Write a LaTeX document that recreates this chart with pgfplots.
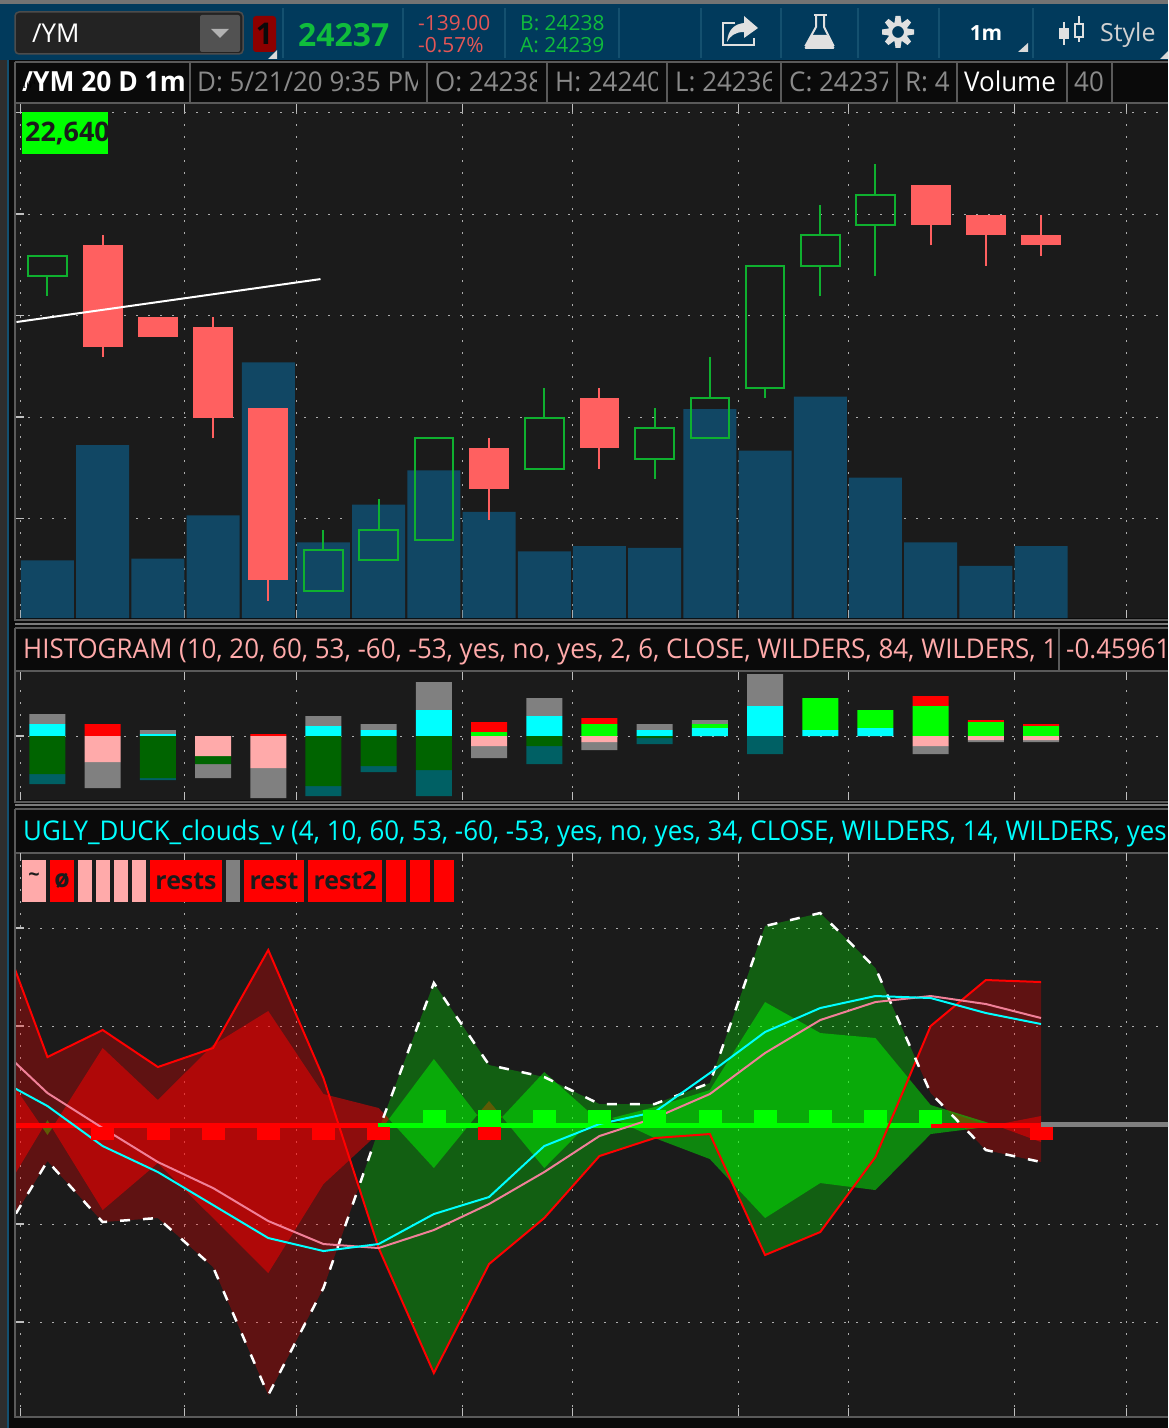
\documentclass[border=0pt]{standalone}
\usepackage{fontspec}
\usepackage{pgfplots}
\pgfplotsset{compat=1.18}
\setmainfont{Open Sans}
\definecolor{bgc}{HTML}{1B1B1B}
\definecolor{hdr}{HTML}{0A0A0A}
\definecolor{bord}{HTML}{5A5A5A}
\definecolor{tool}{HTML}{013A5C}
\definecolor{toolsep}{HTML}{14506F}
\definecolor{cgreen}{HTML}{0FB02F}
\definecolor{tgreen}{HTML}{10BC3C}
\definecolor{cred}{HTML}{FF6060}
\definecolor{vol}{HTML}{114764}
\definecolor{rcyan}{HTML}{00FFFF}
\definecolor{rred}{HTML}{FF0000}
\definecolor{rgreen}{HTML}{00FF00}
\definecolor{hpink}{HTML}{FFAAAA}
\definecolor{hdkgreen}{HTML}{006400}
\definecolor{hteal}{HTML}{006064}
\definecolor{hgray}{HTML}{808080}
\definecolor{txtgray}{HTML}{8A8A8A}
\definecolor{olive}{HTML}{5F5A05}
\definecolor{plink}{HTML}{F08098}
\newcommand\fs[1]{\fontsize{#1}{#1}\selectfont}
\newcommand\cellclip[5]{% x, baseline y, clip x, colour, text
  \begin{scope}\clip (#1-2,#2-30) rectangle (#3,#2+12);
  \node[anchor=base west,inner sep=0pt,text=#4,yscale=1.05] at (#1,#2) {\fs{26}#5};\end{scope}}
\newcommand\badge[5]{% x0, x1, colour, text, yshift
  \fill[#3] (#1,860) rectangle (#2,902);
  \node[inner sep=0pt,text=bgc] at ({(#1+#2)/2},881+#5) {\fs{25}\bfseries #4};}
% i, bottom of body, top of body, high, low
\newcommand\hollow[5]{%
  \addplot[cgreen,line width=2bp] coordinates {(#1-0.35,#2)(#1+0.35,#2)(#1+0.35,#3)(#1-0.35,#3)} -- cycle;
  \addplot[cgreen,line width=2bp] coordinates {(#1,#3)(#1,#4)};
  \addplot[cgreen,line width=2bp] coordinates {(#1,#2)(#1,#5)};}
\newcommand\solidc[5]{%
  \addplot[cred,line width=2bp] coordinates {(#1,#5)(#1,#4)};
  \addplot[fill=cred,draw=none] coordinates {(#1-0.36,#2)(#1+0.36,#2)(#1+0.36,#3)(#1-0.36,#3)} -- cycle;}
\pgfplotsset{
  panel/.style={scale only axis,width=1152bp,xmin=-0.57,xmax=20.30,
    clip=true,axis line style={draw=none},tick align=inside,major tick length=8bp,
    tick style={color=white!75!black,line width=1.2bp},
    xticklabels={},yticklabels={},ytick pos=left,
    xtick={-0.489,2.482,4.511,7.518,9.511,12.518,14.511,17.518,19.547},
    grid=major,major grid style={white!68!black,line width=1bp,dash pattern=on 2bp off 10bp}},
  over/.style={scale only axis,width=1152bp,xmin=-0.57,xmax=20.30,hide axis,clip=true},
  hist/.style={over,at={(16bp,-672bp)},anchor=north west,height=128bp,ymin=-64,ymax=64,
    ybar stacked,bar width=36bp},
}
\begin{document}
\begin{tikzpicture}[x=1bp,y=-1bp]
\path[use as bounding box,clip] (0,0) rectangle (1168,1428);
\fill[hdr] (0,0) rectangle (1168,1428);
\fill[black!82] (0,58) rectangle (7,1428);
\fill[toolsep] (7,58) rectangle (9,1428);
% toolbar
\fill[bord!85] (0,0) rectangle (1168,4);
\fill[tool] (0,4) rectangle (1168,60);
\draw[fill=hdr!90!white,draw=black!70,line width=1.5bp,rounded corners=4bp] (15,12) rectangle (243,54);
\fill[black!68,rounded corners=2bp] (200,15) rectangle (240,52);
\fill[black!30] (211,29) -- (229,29) -- (220,38) -- cycle;
\node[anchor=west,inner sep=0pt,text=white] at (32,33) {\fs{26}/YM};
\fill[red!55!black,rounded corners=3bp] (253,16) rectangle (276,52);
\node[inner sep=0pt,text=hdr] at (264.5,34) {\fs{30}\bfseries 1};
\fill[white!85!black] (268,59) -- (277,59) -- (277,50) -- cycle;
\foreach \s in {283,403,505,619,701,781,858,939,1033} {\draw[toolsep,line width=1.5bp] (\s,8) -- (\s,58);}
\node[anchor=west,inner sep=0pt,text=tgreen] at (298,35) {\fs{32}\bfseries 24237};
\node[anchor=west,inner sep=0pt,text=cred!90!black] at (418,23) {\fs{21}-139.00};
\begin{scope}\clip (418,30) rectangle (483,58);
\node[anchor=west,inner sep=0pt,text=cred!90!black] at (418,45) {\fs{21}-0.57\%};
\end{scope}
\node[anchor=west,inner sep=0pt,text=tgreen] at (520,23) {\fs{21}B: 24238};
\node[anchor=west,inner sep=0pt,text=tgreen] at (520,45) {\fs{21}A: 24239};
% share icon
\draw[white!88!black,line width=2bp] (735,23) -- (723,23) -- (723,45) -- (754,45) -- (754,38);
\fill[white!88!black] (744,16) -- (758,28) -- (744,38) -- (744,32) .. controls (735,32) and (730,36) .. (727,42) .. controls (728,30) and (734,24) .. (744,23) -- cycle;
% flask icon
\draw[white!88!black,line width=2bp] (814,15) -- (827,15);
\draw[white!88!black,line width=2bp] (816,15) -- (816,27) -- (806,45) -- (833,45) -- (824,27) -- (824,15);
\fill[white!88!black,rounded corners=1.5bp] (811,35) -- (828,35) -- (835,49) -- (804,49) -- cycle;
% gear icon
\foreach \a in {0,45,...,315} {\fill[white!88!black,rotate around={\a:(898,32)}] (895.5,16) -- (900.5,16) -- (902,26) -- (894,26) -- cycle;}
\draw[white!88!black,line width=4bp] (898,32) circle (8);
\node[inner sep=0pt,text=white] at (986,33) {\fs{21}\bfseries 1m};
\fill[white!85!black] (1018,52) -- (1028,52) -- (1028,43) -- cycle;
% candle icon
\draw[white!88!black,line width=2bp] (1064,22) -- (1064,45) (1079,16) -- (1079,42);
\fill[white!88!black] (1059,28) rectangle (1069,39);
\draw[white!88!black,fill=tool,line width=2bp] (1075,24) rectangle (1083,37);
\node[anchor=base west,inner sep=0pt,text=white!82!black] at (1100,42) {\fs{25}Style};
\fill[white!85!black] (1160,59) -- (1168,59) -- (1168,51) -- cycle;
% panel frames
\fill[bgc] (16,104) rectangle (1168,618);
\fill[bgc] (16,672) rectangle (1168,800);
\fill[bgc] (16,853) rectangle (1168,1416);
\draw[bord,line width=2bp] (15,62) -- (1168,62) (15,62) -- (15,620) -- (1168,620);
\draw[bord,line width=2bp] (15,103.5) -- (1168,103.5);
\draw[bord!80,line width=2bp] (15,623.5) -- (1168,623.5);
\draw[bord,line width=2bp] (15,627.5) -- (1168,627.5) (15,627.5) -- (15,801.5) -- (1168,801.5);
\draw[bord,line width=2bp] (15,671) -- (1168,671);
\draw[bord!80,line width=2bp] (15,805) -- (1168,805);
\draw[bord,line width=2bp] (15,809) -- (1168,809) (15,809) -- (15,1417) -- (1168,1417);
\draw[bord,line width=2bp] (15,852.5) -- (1168,852.5);
\foreach \s in {190,427,547,667,781,897,957,1067,1112} {\draw[bord,line width=2bp] (\s,62) -- (\s,103);}
\draw[bord,line width=2bp] (1059,627) -- (1059,670);
% headers
\node[anchor=base west,inner sep=0pt,text=white,yscale=1.05] at (22,92) {\fs{26.5}\bfseries /YM 20 D 1m};
\cellclip{197}{92}{417}{txtgray}{D: 5/21/20 9:35 PM}
\cellclip{435}{92}{536}{txtgray}{O: 24238}
\cellclip{555}{92}{657}{txtgray}{H: 24240}
\cellclip{675}{92}{771}{txtgray}{L: 24236}
\cellclip{789}{92}{887}{txtgray}{C: 24237}
\cellclip{905}{92}{950}{txtgray}{R: 4}
\cellclip{964}{92}{1060}{white}{Volume}
\cellclip{1074}{92}{1105}{txtgray}{40}
\cellclip{23}{658}{1056}{hpink}{HISTOGRAM (10, 20, 60, 53, -60, -53, yes, no, yes, 2, 6, CLOSE, WILDERS, 84, WILDERS, 1}
\cellclip{1066}{658}{1168}{hpink}{-0.45961}
\cellclip{23}{840}{1168}{rcyan}{UGLY\_DUCK\_clouds\_v (4, 10, 60, 53, -60, -53, yes, no, yes, 34, CLOSE, WILDERS, 14, WILDERS, yes}

%% ---- price panel: grid, volume, candles ----
\begin{axis}[panel,at={(16bp,-104bp)},anchor=north west,height=514bp,
  ymin=24200.2,ymax=24250.84,ytick={24200,24210,24220,24230,24240,24250}]
\end{axis}
\begin{axis}[over,at={(16bp,-104bp)},anchor=north west,height=514bp,ymin=0,ymax=285.6,ybar,bar width=53bp]
\addplot[fill=vol,draw=none] coordinates {(0,32)(1,96)(2,33)(3,57)(4,142)(5,42)(6,63)(7,82)(8,59)(9,37)(10,40)(11,39)(12,116)(13,93)(14,123)(15,78)(16,42)(17,29)(18,40)};
\end{axis}
\begin{axis}[over,at={(16bp,-104bp)},anchor=north west,height=514bp,ymin=24200.3,ymax=24250.94]
\hollow{0}{24234}{24236}{24236}{24232}
\solidc{1}{24227}{24237}{24238}{24226}
\solidc{2}{24228}{24230}{24230}{24228}
\solidc{3}{24220}{24229}{24230}{24218}
\solidc{4}{24204}{24221}{24221}{24202}
\hollow{5}{24203}{24207}{24209}{24203}
\hollow{6}{24206}{24209}{24212}{24206}
\hollow{7}{24208}{24218}{24218}{24208}
\solidc{8}{24213}{24217}{24218}{24210}
\hollow{9}{24215}{24220}{24223}{24215}
\solidc{10}{24217}{24222}{24223}{24215}
\hollow{11}{24216}{24219}{24221}{24214}
\hollow{12}{24218}{24222}{24226}{24218}
\hollow{13}{24223}{24235}{24235}{24222}
\hollow{14}{24235}{24238}{24241}{24232}
\hollow{15}{24239}{24242}{24245}{24234}
\solidc{16}{24239}{24243}{24243}{24237}
\solidc{17}{24238}{24240}{24240}{24235}
\solidc{18}{24237}{24238}{24240}{24236}
\addplot[white,line width=2bp] coordinates {(-0.5616,24229.46)(4.946,24233.69)};
\end{axis}

%% ---- histogram panel ----
\begin{axis}[panel,at={(16bp,-672bp)},anchor=north west,height=128bp,ymin=-64,ymax=64,ytick={0}]
\end{axis}
\begin{axis}[hist]
\addplot[fill=rcyan,draw=none] coordinates {(0,12)(1,0)(2,2)(3,0)(4,0)(5,10)(6,6)(7,26)(8,0)(9,20)(10,0)(11,6)(12,8)(13,30)(14,6)(15,8)(16,0)(17,0)(18,0)};
\addplot[fill=rgreen,draw=none] coordinates {(0,0)(1,0)(2,0)(3,0)(4,0)(5,0)(6,0)(7,0)(8,4)(9,0)(10,12)(11,0)(12,4)(13,0)(14,32)(15,18)(16,30)(17,14)(18,10)};
\addplot[fill=hgray,draw=none] coordinates {(0,10)(1,0)(2,4)(3,0)(4,0)(5,10)(6,6)(7,28)(8,0)(9,18)(10,0)(11,6)(12,4)(13,32)(14,0)(15,0)(16,0)(17,0)(18,0)};
\addplot[fill=rred,draw=none] coordinates {(0,0)(1,12)(2,0)(3,0)(4,2)(5,0)(6,0)(7,0)(8,10)(9,0)(10,6)(11,0)(12,0)(13,0)(14,0)(15,0)(16,10)(17,2)(18,2)};
\end{axis}
\begin{axis}[hist]
\addplot[fill=hpink,draw=none] coordinates {(0,0)(1,-26)(2,0)(3,-20)(4,-32)(5,0)(6,0)(7,0)(8,-10)(9,0)(10,-6)(11,0)(12,0)(13,0)(14,0)(15,0)(16,-10)(17,-4)(18,-4)};
\addplot[fill=hdkgreen,draw=none] coordinates {(0,-38)(1,0)(2,-42)(3,-8)(4,0)(5,-50)(6,-30)(7,-34)(8,0)(9,-10)(10,0)(11,-2)(12,0)(13,0)(14,0)(15,0)(16,0)(17,0)(18,0)};
\addplot[fill=hteal,draw=none] coordinates {(0,-10)(1,0)(2,-2)(3,0)(4,0)(5,-10)(6,-6)(7,-26)(8,0)(9,-18)(10,0)(11,-6)(12,0)(13,-18)(14,0)(15,0)(16,0)(17,0)(18,0)};
\addplot[fill=hgray,draw=none] coordinates {(0,0)(1,-26)(2,0)(3,-14)(4,-30)(5,0)(6,0)(7,0)(8,-12)(9,0)(10,-8)(11,0)(12,0)(13,0)(14,0)(15,0)(16,-8)(17,-2)(18,-2)};
\end{axis}

%% ---- clouds panel (vertical scale: reversed) ----
\begin{axis}[panel,at={(16bp,-853bp)},anchor=north west,height=563bp,
  ymin=853,ymax=1416,y dir=reverse,ytick={928,1026,1125,1224,1322}]
% outer cloud
\addplot[fill=rred,fill opacity=0.3,draw=none] coordinates {(-1,908)(0,1057)(1,1030)(2,1067)(3,1048)(4,950)(5,1078)(5.64,1187)(5,1288)(4,1395)(3,1267)(2,1218)(1,1222)(0,1161)(-1,1253)} -- cycle;
\addplot[fill=rgreen,fill opacity=0.3,draw=none] coordinates {(5.64,1187)(6,1130)(7,983)(8,1065)(9,1077)(10,1104)(11,1104)(12,1083)(13,926)(14,913)(15,968)(15.738,1060)(15,1157)(14,1232)(13,1255)(12,1134)(11,1138)(10,1156)(9,1218)(8,1264)(7,1373)(6,1248)} -- cycle;
\addplot[fill=rred,fill opacity=0.3,draw=none] coordinates {(15.738,1060)(16,1026)(17,980)(18,982)(18,1162)(17,1150)(16,1093)} -- cycle;
% inner cloud
\addplot[fill=rred,fill opacity=0.5,draw=none] coordinates {(-1,1054)(-0.087,1128)(-1,1212)} -- cycle;
\addplot[fill=olive,draw=none] coordinates {(-0.087,1128)(0,1135)(0.085,1128)(0,1120)} -- cycle;
\addplot[fill=rred,fill opacity=0.5,draw=none] coordinates {(0.085,1128)(1,1048)(2,1100)(3,1045)(4,1011)(5,1094)(6,1108)(6.187,1119)(6,1133)(5,1184)(4,1273)(3,1218)(2,1163)(1,1210)} -- cycle;
\addplot[fill=rgreen,fill opacity=0.47,draw=none] coordinates {(6.187,1119)(7,1059)(7.784,1115)(7,1168)} -- cycle;
\addplot[fill=olive,draw=none] coordinates {(7.784,1115)(8,1101)(8.238,1117)(8,1131)} -- cycle;
\addplot[fill=rgreen,fill opacity=0.47,draw=none] coordinates {(8.238,1117)(9,1072)(9.914,1117)(9,1168)} -- cycle;
\addplot[fill=olive,draw=none] coordinates {(9.914,1117)(10,1112)(10.225,1118)(10,1121)} -- cycle;
\addplot[fill=rgreen,fill opacity=0.47,draw=none] coordinates {(10.225,1118)(11,1107)(12,1090)(13,1002)(14,1033)(15,1038)(16,1105)(17,1122)(17.16,1125)(17,1127)(16,1134)(15,1190)(14,1183)(13,1218)(12,1159)(11,1138)} -- cycle;
\addplot[fill=olive,draw=none] coordinates {(16.36,1113)(17.08,1126)(16.67,1129)} -- cycle;
\addplot[fill=rred,fill opacity=0.5,draw=none] coordinates {(17.16,1125)(18,1116)(18,1142)} -- cycle;
% zero band
\addplot[rred,line width=5bp] coordinates {(-1,1125)(6.0,1125)};
\addplot[rgreen,line width=5bp] coordinates {(5.98,1125)(16.09,1125)};
\addplot[rred,line width=5bp] coordinates {(16.0,1125)(18,1125)};
\addplot[hgray,line width=5bp] coordinates {(18,1124)(21,1124)};
% squares
\addplot[only marks,mark=square*,mark size=11bp,rred,mark options={yscale=0.55,draw=none,fill=rred}] coordinates {(1,1133)(2,1133)(3,1133)(4,1133)(5,1133)(6,1133)(8,1133)(18,1133)};
\addplot[only marks,mark=square*,mark size=11bp,rgreen,mark options={yscale=0.59,draw=none,fill=rgreen}] coordinates {(7,1116.5)(8,1116.5)(9,1116.5)(10,1116.5)(11,1116.5)(12,1116.5)(13,1116.5)(14,1116.5)(15,1116.5)(16,1116.5)};
% lines
\addplot[rred,line width=2bp] coordinates {(-1,908)(0,1057)(1,1030)(2,1067)(3,1048)(4,950)(5,1078)(6,1248)(7,1373)(8,1264)(9,1218)(10,1156)(11,1138)(12,1134)(13,1255)(14,1232)(15,1157)(16,1026)(17,980)(18,982)};
\addplot[white,line width=2.5bp,dash pattern=on 10bp off 13bp] coordinates {(-1,1253)(0,1161)(1,1222)(2,1218)(3,1267)(4,1395)(5,1288)(6,1130)(7,983)(8,1065)(9,1077)(10,1104)(11,1104)(12,1083)(13,926)(14,913)(15,968)(16,1093)(17,1150)(18,1162)};
\addplot[plink,line width=2bp] coordinates {(-1,1041)(0,1093)(1,1128)(2,1162)(3,1188)(4,1221)(5,1244)(6,1248)(7,1230)(8,1204)(9,1172)(10,1136)(11,1118)(12,1094)(13,1053)(14,1020)(15,1002)(16,996)(17,1004)(18,1018)};
\addplot[rcyan,line width=2bp] coordinates {(-1,1076)(0,1106)(1,1146)(2,1172)(3,1205)(4,1238)(5,1251)(6,1244)(7,1214)(8,1197)(9,1146)(10,1124)(11,1112)(12,1073)(13,1032)(14,1008)(15,996)(16,998)(17,1013)(18,1024)};
\end{axis}

%% ---- badges ----
\fill[rgreen] (22,112) rectangle (108,154);
\begin{scope}\clip (22,112) rectangle (108,154);
\node[anchor=base west,inner sep=0pt,text=bgc] at (25,142) {\fs{27}\bfseries 22,640};
\end{scope}
\badge{22}{46}{hpink}{\raisebox{7bp}{\fs{20}\bfseries\textasciitilde}}{0}
\badge{50}{74}{rred}{ø}{0}
\badge{78}{92}{hpink}{}{0}
\badge{96}{110}{hpink}{}{0}
\badge{114}{128}{hpink}{}{0}
\badge{132}{146}{hpink}{}{0}
\badge{150}{222}{rred}{rests}{0}
\badge{226}{240}{hgray}{}{0}
\badge{244}{304}{rred}{rest}{0}
\badge{308}{382}{rred}{rest2}{0}
\badge{386}{406}{rred}{}{0}
\badge{410}{430}{rred}{}{0}
\badge{434}{454}{rred}{}{0}
\end{tikzpicture}
\end{document}
